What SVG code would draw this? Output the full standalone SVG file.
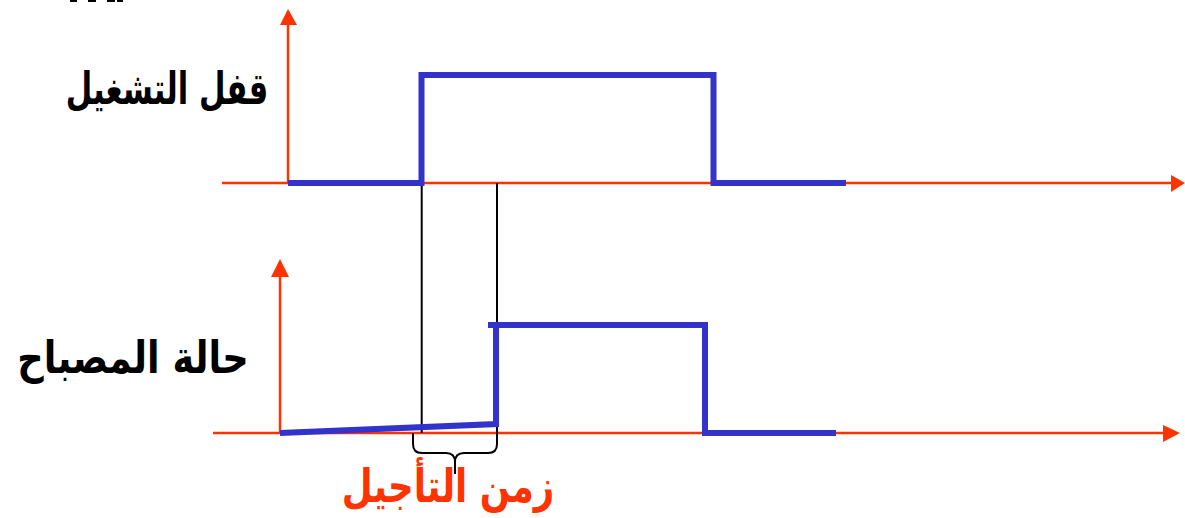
<svg xmlns="http://www.w3.org/2000/svg" width="1185" height="518" viewBox="0 0 1185 518">
<style>
.axis{stroke:#FF3300;stroke-width:2.5;fill:none}
.head{fill:#FF3300}
.sig{stroke:#3333CC;stroke-width:6;fill:none;stroke-linejoin:miter;stroke-linecap:butt}
.guide{stroke:#000;stroke-width:2;fill:none}
.lbl{font-family:"DejaVu Sans","Liberation Sans",sans-serif;font-weight:bold;text-anchor:middle}
</style>
<rect width="1185" height="518" fill="#fff"/>
<g id="marks" fill="#000">
<rect x="70" y="0" width="7" height="2"/>
<rect x="88" y="0" width="8" height="2"/>
<rect x="107" y="0" width="8" height="2"/>
<rect x="117" y="0" width="6" height="2"/>
</g>
<g id="connectors">
<g id="axes-top">
<line class="axis" x1="288" y1="22" x2="288" y2="183"/>
<polygon class="head" points="288,9 280,25 297,25"/>
<line class="axis" x1="222" y1="183" x2="1173" y2="183"/>
<polygon class="head" points="1185,183 1171,175 1171,192"/>
</g>
<g id="axes-bottom">
<line class="axis" x1="280" y1="273" x2="280" y2="433"/>
<polygon class="head" points="280,259 271,277 289,277"/>
<line class="axis" x1="213" y1="433" x2="1166" y2="433"/>
<polygon class="head" points="1180,433 1163,425 1163,442"/>
</g>
<g id="guides">
<line class="guide" x1="421.7" y1="183" x2="421.7" y2="433"/>
<path class="guide" d="M413,433 L413,444 Q413,453 422,453 L446,453 Q455,453 455,462 L455,474"/>
<path class="guide" d="M455,474 L455,462 Q455,453 464,453 L488,453 Q497,453 497,444 L497,183"/>
</g>
</g>
<g id="signal-top">
<polyline class="sig" points="288,183 421.5,183 421.5,75 713.5,75 713.5,183 846,183"/>
</g>
<g id="signal-bottom">
<polyline class="sig" points="280,433 496,424 496,325 705,325 705,433 836,433"/>
<line class="sig" x1="488" y1="325" x2="496" y2="325"/>
</g>
<g id="label-top">
<text class="lbl" transform="translate(167,104) scale(0.9,1.3)" font-size="34" fill="#000">قفل التشغيل</text>
</g>
<g id="label-bottom">
<text class="lbl" transform="translate(133,373) scale(1.08,1.3)" font-size="34" fill="#000">حالة المصباح</text>
</g>
<g id="label-delay">
<text class="lbl" transform="translate(448,502) scale(0.99,1.27)" font-size="36" fill="#FF3300">زمن التأجيل</text>
</g>
</svg>
